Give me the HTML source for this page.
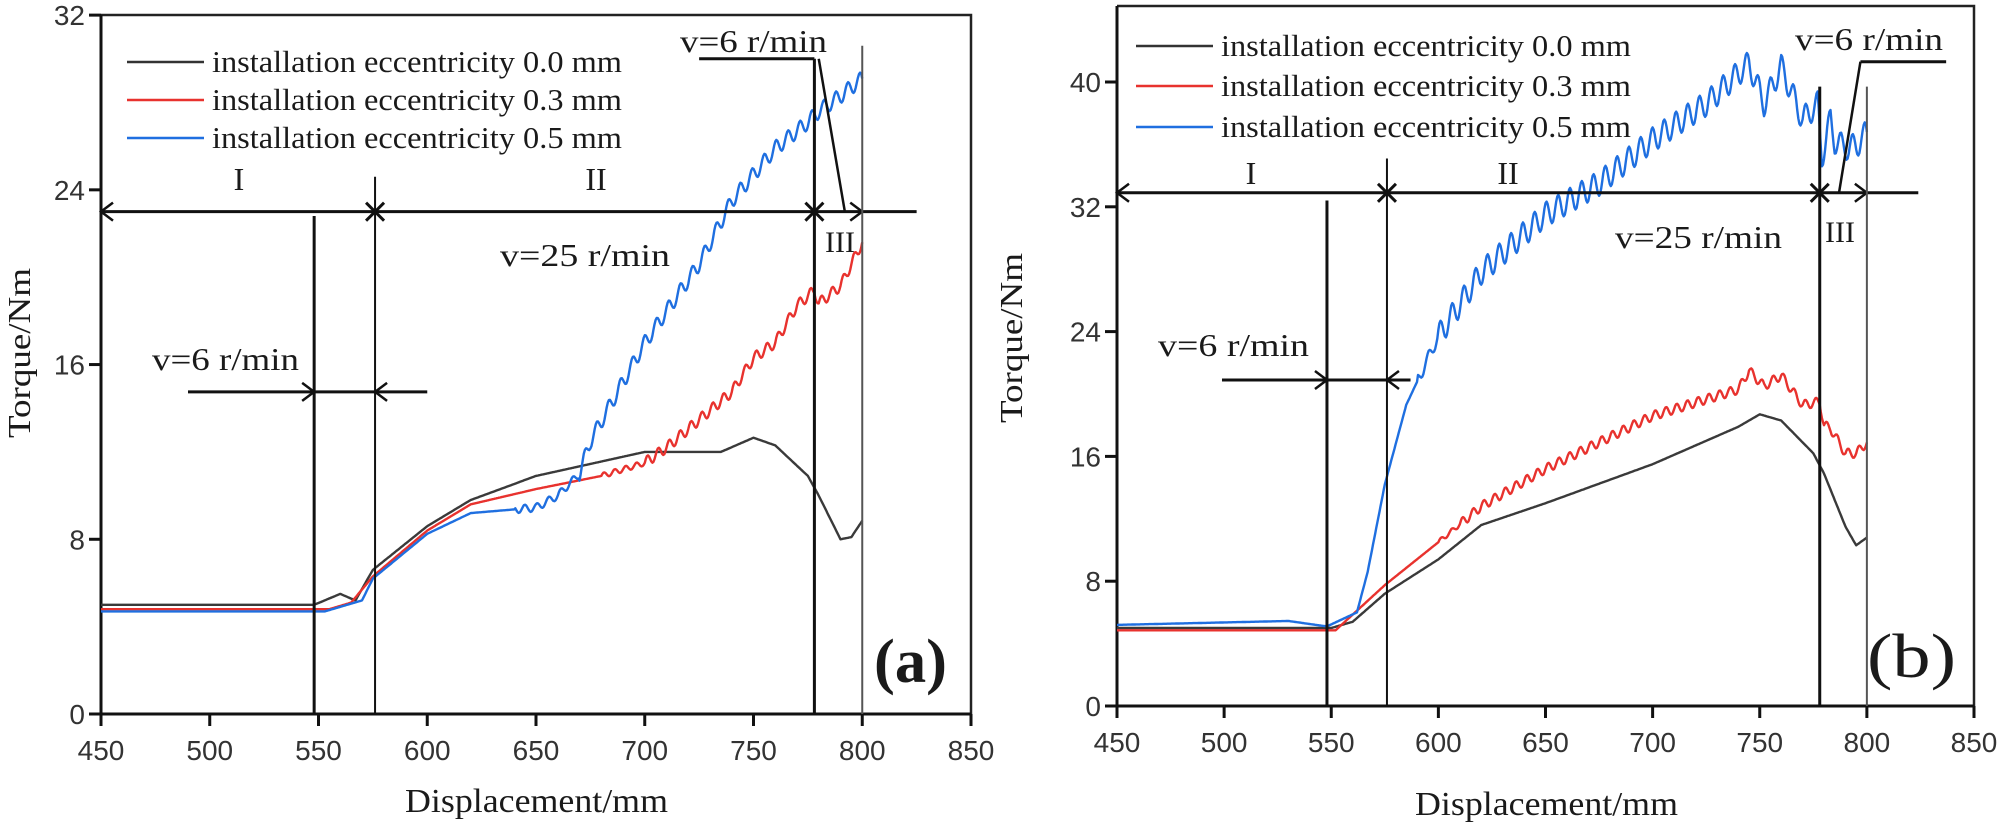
<!DOCTYPE html>
<html><head><meta charset="utf-8"><style>
html,body{margin:0;padding:0;background:#fff;}
svg{display:block;}
.tk{font-family:"Liberation Sans",sans-serif;font-size:28px;fill:#333;}
.sf{font-family:"Liberation Serif",serif;fill:#1a1a1a;}
</style></head><body>
<svg id="s" width="1998" height="823" viewBox="0 0 1998 823" xmlns="http://www.w3.org/2000/svg"></svg>
<script>
const S=document.getElementById('s');let h='';
function add(x){h+=x;}
function T(x,y,s,fs,w,len,anchor){
 add(`<text class="sf" font-size="${fs}" font-weight="${w||'normal'}" x="${x}" y="${y}" text-anchor="${anchor||'start'}"${len?` textLength="${len}" lengthAdjust="spacingAndGlyphs"`:''}>${s}</text>`);}
function chart(c){
 const X=v=>c.x0+(v-450)*c.kx, Y=v=>c.y0-v*c.ky;
 const L=c.x0,R=X(850),Tp=c.top,B=c.y0;
 add(`<path d="M${L} ${Tp}H${R}V${B}" fill="none" stroke="#222" stroke-width="2.5"/>`);
 add(`<path d="M${L} ${Tp}V${B}H${R}" fill="none" stroke="#111" stroke-width="3"/>`);
 for(let v=450;v<=850;v+=50){add(`<line x1="${X(v)}" y1="${B}" x2="${X(v)}" y2="${B+12}" stroke="#111" stroke-width="3"/>`);
  add(`<text class="tk" x="${X(v)}" y="${B+46}" text-anchor="middle">${v}</text>`);}
 c.yt.forEach(v=>{add(`<line x1="${L-12}" y1="${Y(v)}" x2="${L}" y2="${Y(v)}" stroke="#111" stroke-width="3"/>`);
  add(`<text class="tk" x="${L-16}" y="${Y(v)+10}" text-anchor="end">${v}</text>`);});
 T(c.xtx,c.xt,'Displacement/mm',34,'normal',263);
 add(`<text class="sf" font-size="32" transform="translate(${c.yx},${c.yc}) rotate(-90)" text-anchor="middle" textLength="170" lengthAdjust="spacingAndGlyphs">Torque/Nm</text>`);
 function ser(pts,col,saw,per,from,half){
  let d='';let first=true;
  for(let i=0;i<pts.length-1;i++){const [a,va]=pts[i],[b,vb]=pts[i+1];
   for(let m=a;m<b;m+=0.5){let v=va+(vb-va)*(m-a)/(b-a);
    if(saw&&m>from&&m<800){v+=saw*Math.sin(m/per*2*Math.PI)*(m<half?0.5:1);}
    d+=(first?'M':'L')+X(m).toFixed(1)+' '+Y(v).toFixed(1);first=false;}}
  const l=pts[pts.length-1];d+='L'+X(l[0]).toFixed(1)+' '+Y(l[1]).toFixed(1);
  add(`<path d="${d}" fill="none" stroke="${col}" stroke-width="2.4" stroke-linejoin="round"/>`);}
 ser(c.g,'#3a3a3a',0,1,0,0);ser(c.r,'#e8322e',c.rs,5,c.rf,c.rh);ser(c.b,'#1f6fe0',c.bs,5.5,c.bf,c.bh);
 const ln=(x1,y1,x2,y2,w)=>add(`<line x1="${x1}" y1="${y1}" x2="${x2}" y2="${y2}" stroke="#111" stroke-width="${w||2.5}"/>`);
 const ha=Y(c.hy);
 ln(X(450),ha,X(c.hend),ha,3);
 const arr=(x,y,dir)=>add(`<path d="M${x+dir*12} ${y-9}L${x} ${y}L${x+dir*12} ${y+9}" fill="none" stroke="#111" stroke-width="2.5"/>`);
 const cross=(x,y)=>add(`<path d="M${x-9} ${y-9}L${x+9} ${y+9}M${x+9} ${y-9}L${x-9} ${y+9}" stroke="#111" stroke-width="3"/>`);
 arr(X(450),ha,1);cross(X(576),ha);cross(X(778),ha);arr(X(800),ha,-1);
 ln(X(548),Y(c.v1),X(548),B,3);ln(X(576),Y(c.v2),X(576),B,2);ln(X(778),Y(c.v3),X(778),B,3);
 add(`<line x1="${X(800)}" y1="${Y(c.v4)}" x2="${X(800)}" y2="${B}" stroke="#555" stroke-width="2"/>`);
 ln(X(c.ta),Y(c.ty),X(c.tb),Y(c.ty),3);ln(X(c.d1[0]),Y(c.d1[1]),X(c.d2[0]),Y(c.d2[1]));
 const la=Y(c.ly);ln(X(c.la),la,X(c.lb),la,3);arr(X(548),la,-1);arr(X(576),la,1);
 c.txt.forEach(t=>T(t[0],t[1],t[2],t[3],t[4],t[5],t[6]));
 const cols=['#333','#e8322e','#1f6fe0'],vals=['0.0','0.3','0.5'];
 for(let i=0;i<3;i++){add(`<line x1="${c.lg[0]}" y1="${c.lg[2][i]}" x2="${c.lg[1]}" y2="${c.lg[2][i]}" stroke="${cols[i]}" stroke-width="2.5"/>`);
  T(c.lg[1]+8,c.lg[2][i]+10,`installation eccentricity ${vals[i]} mm`,31,'normal',410);}
}
chart({x0:101,kx:2.175,y0:714,ky:21.84,top:15,yt:[0,8,16,24,32],xt:812,xtx:405,yx:30,yc:353,
 g:[[450,5],[548,5],[560,5.5],[567,5.2],[575,6.6],[600,8.6],[620,9.8],[650,10.9],[700,12],[735,12],[750,12.65],[760,12.3],[775,10.9],[780,10],[790,8],[795,8.1],[800,8.85]],
 r:[[450,4.8],[555,4.8],[565,5.1],[575,6.3],[600,8.4],[620,9.6],[650,10.3],[680,10.9],[700,11.5],[710,12.2],[730,13.9],[740,14.75],[750,16.3],[760,17],[770,18.7],[778,19.4],[780,18.8],[790,19.6],[800,21.6]],
 b:[[450,4.7],[553,4.7],[570,5.2],[575,6.2],[600,8.25],[620,9.2],[650,9.45],[660,10],[670,11],[675,12.5],[700,17],[725,20.6],[740,23.5],[750,24.7],[760,25.9],[775,27.1],[780,27.6],[790,28.3],[800,29.1]],
 rs:0.25,bs:0.35,rf:680,rh:700,bf:640,bh:670,
 hy:23,hend:825,v1:22.8,v2:24.6,v3:30,v4:30.6,ta:725,tb:778,ty:30,d1:[780,30],d2:[792,23],ly:14.75,la:490,lb:600,
 txt:[[680,52,'v=6 r/min',32,'normal',147],[239,190,'I',32,'normal',0,'middle'],[596,190,'II',32,'normal',0,'middle'],[840,252,'III',30,'normal',0,'middle'],[500,266,'v=25 r/min',32,'normal',170],[152,370,'v=6 r/min',32,'normal',147],[874,682,'(a)',62,'bold',73]],
 lg:[127,204,[62,100,138]]});
chart({x0:1117,kx:2.1425,y0:706,ky:15.6,top:6,yt:[0,8,16,24,32,40],xt:815,xtx:1415,yx:1022,yc:338,
 g:[[450,5],[550,5],[560,5.4],[575,7.2],[600,9.4],[620,11.6],[650,13],[700,15.5],[735,17.6],[740,17.9],[750,18.7],[760,18.3],[775,16.2],[780,14.9],[790,11.5],[795,10.3],[800,10.8]],
 r:[[450,4.85],[552,4.85],[575,7.75],[600,10.5],[620,12.8],[650,15.2],[700,18.6],[740,20.3],[745,21.5],[752,20.5],[760,21.2],[770,19.3],[778,19.5],[780,18],[783,17.8],[790,16.2],[795,16.2],[800,16.9]],
 b:[[450,5.2],[530,5.45],[548,5.1],[562,6],[567,8.6],[575,14.2],[585,19.3],[600,23.7],[620,27.8],[650,31.5],[675,33.5],[700,36.3],[725,38.6],[745,41.2],[752,38.6],[760,41],[770,37.6],[777,38.6],[779,35.2],[783,37.6],[785,36.2],[790,35.8],[795,35.9],[800,36.8]],
 rs:0.3,bs:0.8,rf:600,rh:610,bf:590,bh:600,
 hy:32.9,hend:824,v1:32.4,v2:35.1,v3:39.7,v4:39.7,ta:797,tb:837,ty:41.3,d1:[797,41.3],d2:[787,32.9],ly:20.9,la:499,lb:587,
 txt:[[1795,50,'v=6 r/min',32,'normal',148],[1251,184,'I',32,'normal',0,'middle'],[1508,184,'II',32,'normal',0,'middle'],[1840,242,'III',30,'normal',0,'middle'],[1615,248,'v=25 r/min',32,'normal',167],[1158,356,'v=6 r/min',32,'normal',151],[1867,677,'(b)',62,'normal',89]],
 lg:[1136,1213,[46,86,127]]});
S.innerHTML=h;
</script>
</body></html>
